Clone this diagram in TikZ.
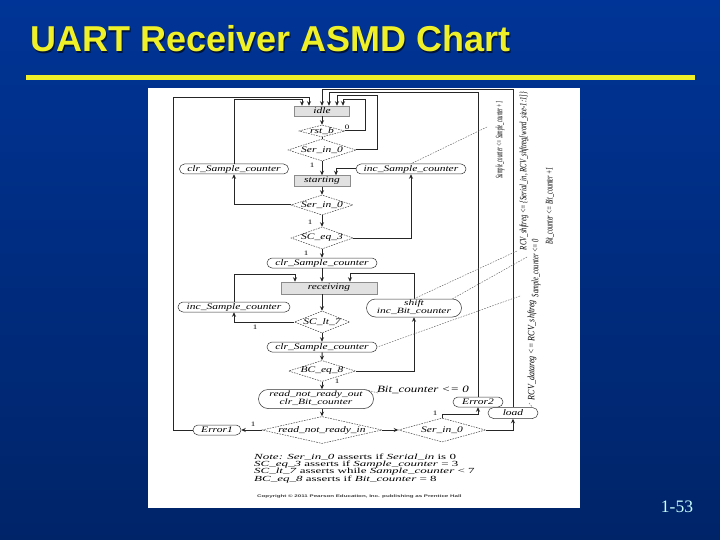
\documentclass[tikz,border=0pt]{standalone}
\usepackage{fontspec}
\setmainfont{Liberation Serif}
\newfontfamily\sansfnt{Liberation Sans}
\usetikzlibrary{shapes.geometric,shapes.misc,arrows.meta}
\definecolor{bgtop}{RGB}{0,52,150}
\definecolor{bgbot}{RGB}{0,36,104}
\definecolor{ttlyel}{RGB}{240,240,40}
\definecolor{ttlshadow}{RGB}{0,20,60}
\definecolor{numcol}{RGB}{200,255,255}
\definecolor{stfill}{RGB}{225,225,225}
\newcommand{\chtxt}[2][11.5]{\scalebox{1}[0.74]{\fontsize{#1}{#1}\selectfont\itshape #2}}
\newcommand{\twotxt}[2]{\scalebox{1}[0.7]{\fontsize{11.5}{12}\selectfont\itshape\begin{tabular}{@{}c@{}}#1\\#2\end{tabular}}}
\newcommand{\dtxt}[1]{\makebox[0pt]{\chtxt{#1}}}
\newcommand{\rottxt}[2]{\resizebox{#1}{6.8pt}{\itshape #2}}
\newcommand{\numtxt}[1]{\scalebox{1}[0.75]{\fontsize{9}{9}\selectfont #1}}
\newcommand{\notetxt}[1]{\scalebox{1}[0.6]{\fontsize{13}{13}\selectfont #1}}
\tikzset{
  conn/.style={draw=black!85, line width=1pt},
  arr/.style={conn, -{Stealth[length=4.5pt,width=4pt]}},
  statebox/.style={rectangle, draw=black!45, fill=stfill, line width=0.5pt, inner sep=0pt},
  decbox/.style={diamond, draw=black!75, dash pattern=on 1.6pt off 1.1pt, line width=0.5pt, inner sep=0pt, fill=white},
  outbox/.style={rounded rectangle, draw=black!80, line width=0.5pt, inner sep=0pt, fill=white},
  lead/.style={draw=black!65, dash pattern=on 1.6pt off 1.2pt, line width=0.4pt},
  lbl/.style={inner sep=0pt},
}
\begin{document}
\begin{tikzpicture}[x=1pt,y=-1pt]
\useasboundingbox (0,0) rectangle (720,540);
\shade[top color=bgtop,bottom color=bgbot] (0,0) rectangle (720,540);
\node[anchor=base west, inner sep=0pt, text=ttlshadow, font=\sansfnt\bfseries\fontsize{36}{36}\selectfont] (titleshadow) at (31.5,53.5) {UART Receiver ASMD Chart};
\node[anchor=base west, inner sep=0pt, text=ttlyel, font=\sansfnt\bfseries\fontsize{36}{36}\selectfont] (title) at (30,52) {UART Receiver ASMD Chart};
\fill[ttlyel] (26,75.5) rectangle (695,80.5);
\fill[white] (148,88) rectangle (580,508);
\node[text=numcol, font=\fontsize{17.5}{17.5}\selectfont, inner sep=0pt] (pagenum) at (677,507) {1-53};

% chart nodes
\node[statebox, minimum width=55pt, minimum height=10pt] (idle) at (322,111) {\chtxt{idle}};
\node[decbox, minimum width=46pt, minimum height=12pt] (rst) at (322,131) {\dtxt{rst\_b}};
\node[decbox, minimum width=68pt, minimum height=22pt] (sin1) at (322,150) {\dtxt{Ser\_in\_0}};
\node[outbox, minimum width=109pt, minimum height=10pt] (clrL) at (234,169) {\chtxt{clr\_Sample\_counter}};
\node[outbox, minimum width=110pt, minimum height=10pt] (incR) at (411,169) {\chtxt{inc\_Sample\_counter}};
\node[statebox, minimum width=56pt, minimum height=11pt] (starting) at (322,181) {\chtxt{starting}};
\node[decbox, minimum width=62pt, minimum height=20pt] (sin2) at (322,205) {\dtxt{Ser\_in\_0}};
\node[decbox, minimum width=62pt, minimum height=22pt] (sceq3) at (322,238) {\dtxt{SC\_eq\_3}};
\node[outbox, minimum width=110pt, minimum height=10pt] (clr2) at (322,263) {\chtxt{clr\_Sample\_counter}};
\node[statebox, minimum width=96pt, minimum height=12pt] (receiving) at (329,288) {\chtxt{receiving}};
\node[outbox, minimum width=112pt, minimum height=10pt] (inc2) at (234,307) {\chtxt{inc\_Sample\_counter}};
\node[outbox, minimum width=95pt, minimum height=18pt] (shift) at (414,308) {\twotxt{shift}{inc\_Bit\_counter}};
\node[decbox, minimum width=55pt, minimum height=22pt] (sclt7) at (322,322) {\dtxt{SC\_lt\_7}};
\node[outbox, minimum width=110pt, minimum height=10pt] (clr3) at (322,347) {\chtxt{clr\_Sample\_counter}};
\node[decbox, minimum width=67pt, minimum height=21pt] (bceq8) at (322,371) {\dtxt{BC\_eq\_8}};
\node[outbox, minimum width=115pt, minimum height=19pt] (rnro) at (316,399) {\twotxt{read\_not\_ready\_out}{clr\_Bit\_counter}};
\node[decbox, minimum width=120pt, minimum height=27pt] (rnri) at (322,430) {\dtxt{read\_not\_ready\_in}};
\node[outbox, minimum width=48pt, minimum height=10pt] (err1) at (217,430) {\chtxt{Error1}};
\node[decbox, minimum width=87pt, minimum height=24pt] (sin3) at (442,430) {\dtxt{Ser\_in\_0}};
\node[outbox, minimum width=50pt, minimum height=10pt] (err2) at (478,402) {\chtxt{Error2}};
\node[outbox, minimum width=50pt, minimum height=11pt] (load) at (513,413) {\chtxt{load}};

% helper coordinates
\coordinate (rstc) at (365,100);
\coordinate (s1c) at (377,96);
\coordinate (clrLt) at (234,100);
\coordinate (e1c) at (173,98);
\coordinate (incRc) at (336,169);
\coordinate (inc2c) at (234,274);
\coordinate (shc) at (414,273);
\coordinate (s3c) at (442,414);
\coordinate (e2c) at (478,93);
\coordinate (ldc) at (513,90);

% connectors
\draw[arr] (idle) -- (rst);
\draw[conn] (rst) -- (sin1);
\draw[arr] (sin1) -- (starting);
\draw[arr] (rst.east) -| (rstc) -| ([xshift=21pt]idle.north);
\draw[arr] (sin1.east) -| (s1c) -| ([xshift=15pt]idle.north);
\draw[arr] (starting) -- (sin2);
\draw[arr] (sin2.west) -| (clrL.south);
\draw[arr] (clrL.north) -- (clrLt) -| ([xshift=-20pt]idle.north);
\draw[arr] (sin2) -- (sceq3);
\draw[arr] (sceq3.east) -| (incR.south);
\draw[arr] (incR.west) -- (incRc) -- (incRc |- starting.north);
\draw[arr] (sceq3) -- (clr2);
\draw[arr] (clr2.south) -- (clr2.south |- receiving.north);
\draw[arr] (receiving.south -| sclt7.north) -- (sclt7.north);
\draw[arr] (sclt7.west) -| (inc2.south);
\draw[arr] (inc2.north) -- (inc2c) -| ([xshift=-34pt]receiving.north);
\draw[arr] (sclt7) -- (clr3);
\draw[arr] (clr3) -- (bceq8);
\draw[arr] (bceq8.east) -| (shift.south);
\draw[arr] (shift.north) -- (shc) -| ([xshift=21pt]receiving.north);
\draw[arr] (bceq8.south) -- (bceq8.south |- rnro.north);
\draw[arr] (rnro.south -| rnri.north) -- (rnri.north);
\draw[arr] (rnri.west) -- (err1.east);
\draw[arr] (err1.west) -| (e1c) -| ([xshift=-13pt]idle.north);
\draw[arr] (rnri.east) -- (sin3.west);
\draw[arr] (sin3.north) -- (s3c) -| (err2.south);
\draw[arr] (err2.north) -- (e2c) -| ([xshift=7pt]idle.north);
\draw[arr] (sin3.east) -| (load.south);
\draw[arr] (load.north) -- (ldc) -| (idle.north);

% branch labels
\node[lbl] (l0a) at (347,127) {\numtxt{0}};
\node[lbl] (l1a) at (312,165) {\numtxt{1}};
\node[lbl] (l1b) at (310,222) {\numtxt{1}};
\node[lbl] (l1c) at (306,253) {\numtxt{1}};
\node[lbl] (l1d) at (255,327) {\numtxt{1}};
\node[lbl] (l1e) at (337,381) {\numtxt{1}};
\node[lbl] (l1f) at (253,424) {\numtxt{1}};
\node[lbl] (l1g) at (435,413) {\numtxt{1}};

% register transfer annotations
\node[lbl, rotate=90] (t1) at (500,140) {\rottxt{77pt}{Sample\_counter <= Sample\_counter +1}};
\node[lbl, rotate=90] (t2) at (524,171) {\rottxt{158pt}{RCV\_shftreg <= \{Serial\_in, RCV\_shftreg[word\_size-1:1]\}}};
\node[lbl, rotate=90] (t3) at (550,206) {\rottxt{77pt}{Bit\_counter <= Bit\_counter +1}};
\node[lbl, rotate=90] (t4) at (536,268) {\rottxt{58pt}{Sample\_counter <= 0}};
\node[lbl, rotate=90] (t5) at (532,350) {\rottxt{100pt}{RCV\_datareg <= RCV\_shftreg}};
\node[lbl] (bc0) at (423,390) {\chtxt[13]{Bit\_counter <= 0}};

\coordinate (d1) at (487,127);
\coordinate (d2) at (517,251);
\coordinate (d3) at (527,257);
\coordinate (d4) at (520,296);
\coordinate (d5) at (529,403);
\coordinate (d6) at (378,393);
\draw[lead] (d1) -- (incR.north);
\draw[lead] (d2) -- (shift.north);
\draw[lead] (d3) -- (shift.north east);
\draw[lead] (d4) -- (clr3.east);
\draw[lead] (d5) -- (load.north east);
\draw[lead] (d6) -- (rnro.north east);

% note
\node[lbl, anchor=west] (note1) at (254,457) {\notetxt{\textit{Note: Ser\_in\_0} asserts if \textit{Serial\_in} is 0}};
\node[lbl, anchor=west] (note2) at (254,464.5) {\notetxt{\textit{SC\_eq\_3} asserts if \textit{Sample\_counter} = 3}};
\node[lbl, anchor=west] (note3) at (254,472) {\notetxt{\textit{SC\_lt\_7} asserts while \textit{Sample\_counter} < 7}};
\node[lbl, anchor=west] (note4) at (254,479.5) {\notetxt{\textit{BC\_eq\_8} asserts if \textit{Bit\_counter} = 8}};
\node[lbl, anchor=west, text=black!75] (copyr) at (257,497) {\scalebox{1}[0.6]{\sansfnt\bfseries\fontsize{6.2}{6.2}\selectfont Copyright © 2011 Pearson Education, Inc. publishing as Prentice Hall}};
\end{tikzpicture}
\end{document}
